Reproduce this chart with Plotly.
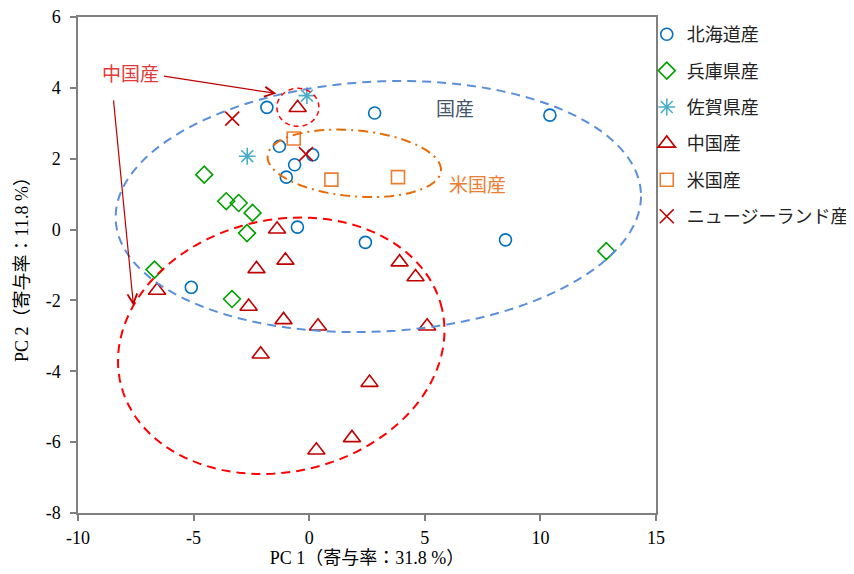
import numpy as np
import plotly.graph_objects as go

# ---------------- data ----------------
hokkaido_x = [-1.83, 2.83, 10.41, -1.29, 0.15, -0.63, -0.99, -0.51, 2.43, 8.49, -5.10]
hokkaido_y = [3.45, 3.29, 3.23, 2.35, 2.11, 1.83, 1.48, 0.07, -0.36, -0.29, -1.63]

hyogo_x = [-4.54, -3.59, -3.05, -2.45, -2.69, -6.69, -3.34, 12.85]
hyogo_y = [1.55, 0.80, 0.75, 0.47, -0.10, -1.13, -1.96, -0.61]

saga_x = [-0.10, -2.68]
saga_y = [3.78, 2.07]

china_x = [-0.50, -1.39, -1.03, -2.28, -6.58, -2.62, -1.11, 0.38, -2.10, 3.91, 4.60, 5.10, 2.61, 1.85, 0.31]
china_y = [3.44, 0.01, -0.87, -1.11, -1.72, -2.17, -2.55, -2.73, -3.52, -0.92, -1.34, -2.73, -4.32, -5.88, -6.23]

usa_x = [-0.67, 0.96, 3.84]
usa_y = [2.57, 1.41, 1.48]

nz_x = [-3.33, -0.14]
nz_y = [3.13, 2.13]

series_names = ["北海道産", "兵庫県産", "佐賀県産", "中国産", "米国産", "ニュージーランド産"]

x_title = "PC 1（寄与率：31.8 %）"
y_title = "PC 2（寄与率：11.8 %）"
x_range = [-10, 15]
y_range = [-8, 6]
x_tickvals = [-10, -5, 0, 5, 10, 15]
x_ticktext = ["-10", "-5", "0", "5", "10", "15"]
y_tickvals = [-8, -6, -4, -2, 0, 2, 4, 6]
y_ticktext = ["-8", "-6", "-4", "-2", "0", "2", "4", "6"]

# ---------------- layout constants ----------------
# (the page body has an 8px margin, so the figure is offset by 8px)
W, H = 854, 574
ML, MT = 70, 9
PW, PH = 578, 496
MR, MB = W - ML - PW, H - MT - PH
SX = PW / (x_range[1] - x_range[0])  # px per unit
SY = PH / (y_range[1] - y_range[0])

SERIF = "Liberation Serif, Noto Sans CJK JP, serif"


def ellipse_path(cx, cy, a_px, b_px, theta_deg, n=120):
    th = np.radians(theta_deg)
    t = np.linspace(0, 2 * np.pi, n)
    dx = a_px * np.cos(t) * np.cos(th) - b_px * np.sin(t) * np.sin(th)
    dy = a_px * np.cos(t) * np.sin(th) + b_px * np.sin(t) * np.cos(th)
    xs = cx + dx / SX
    ys = cy + dy / SY
    pts = [f"{x:.4f},{y:.4f}" for x, y in zip(xs, ys)]
    return "M " + " L ".join(pts) + " Z"


fig = go.Figure()

styles = [
    (hokkaido_x, hokkaido_y, "circle-open", "#0070C0", 12, 1.6),
    (hyogo_x, hyogo_y, "diamond-open", "#00A000", 13, 1.6),
    (saga_x, saga_y, "asterisk-open", "#4BACC6", 14, 1.6),
    (china_x, china_y, "triangle-up-open", "#C00000", 15, 1.6),
    (usa_x, usa_y, "square-open", "#ED7D31", 13, 1.6),
    (nz_x, nz_y, "x-thin-open", "#C00000", 14, 1.6),
]
for name, (xs, ys, sym, col, size, lw) in zip(series_names, styles):
    fig.add_trace(go.Scatter(
        x=xs, y=ys, mode="markers", name=name, legendgroup=name,
        marker=dict(symbol=sym, size=size, color=col, line=dict(color=col, width=lw)),
    ))

# ellipses (group outlines)
shapes = [
    dict(type="path", path=ellipse_path(2.99, 0.65, 263, 125, 3),
         line=dict(color="#5B8FD9", width=2, dash="9px,6px")),
    dict(type="path", path=ellipse_path(1.95, 1.87, 87, 33, -5),
         line=dict(color="#E46C0A", width=2, dash="10px,5px,2px,5px")),
    dict(type="path", path=ellipse_path(-0.49, 3.45, 21, 19, 0),
         line=dict(color="#FF0000", width=1.5, dash="5px,4px")),
    dict(type="path", path=ellipse_path(-1.21, -3.28, 165, 126, 13),
         line=dict(color="#FF0000", width=2, dash="9px,6px")),
]
for s in shapes:
    s.update(xref="x", yref="y", layer="above")
    fig.add_shape(**s)

annotations = [
    dict(x=-7.73, y=4.37, text="中国産", showarrow=False,
         font=dict(family=SERIF, size=19, color="#E03A3A")),
    dict(x=6.32, y=3.38, text="国産", showarrow=False,
         font=dict(family=SERIF, size=19, color="#44546A")),
    dict(x=7.29, y=1.24, text="米国産", showarrow=False,
         font=dict(family=SERIF, size=19, color="#ED7D31")),
    dict(x=-1.42, y=3.84, ax=-6.35, ay=4.34, axref="x", ayref="y", text="",
         showarrow=True, arrowhead=5, arrowsize=1.6, arrowwidth=1.2, arrowcolor="#C00000"),
    dict(x=-7.60, y=-2.15, ax=-8.47, ay=3.69, axref="x", ayref="y", text="",
         showarrow=True, arrowhead=5, arrowsize=1.6, arrowwidth=1.2, arrowcolor="#C00000"),
]
for a in annotations:
    a.update(xref="x", yref="y")
    fig.add_annotation(**a)

axis_common = dict(
    showgrid=False, zeroline=False, showline=True, mirror=True,
    linecolor="#808080", linewidth=1.5, automargin=False,
    ticks="outside", ticklen=6, tickcolor="#808080", tickwidth=1.5,
    ticklabeloverflow="allow",
    tickfont=dict(family=SERIF, size=18, color="#000000"),
)

fig.update_xaxes(range=x_range, tickvals=x_tickvals, ticktext=x_ticktext, ticklabelstandoff=2,
                 title=dict(text=x_title, font=dict(family=SERIF, size=18, color="#000000"), standoff=4),
                 **axis_common)
fig.update_yaxes(range=y_range, tickvals=y_tickvals, ticktext=y_ticktext, ticklabelstandoff=6,
                 title=dict(text=y_title, font=dict(family=SERIF, size=18, color="#000000"), standoff=12),
                 **axis_common)

fig.update_layout(
    width=W, height=H, autosize=False,
    margin=dict(l=ML, r=MR, t=MT, b=MB, autoexpand=False),
    plot_bgcolor="white", paper_bgcolor="white",
    font=dict(family=SERIF, size=18, color="#000000"),
    legend=dict(x=0.984, y=1.002, xanchor="left", yanchor="top",
                font=dict(family=SERIF, size=18, color="#222222"),
                bgcolor="rgba(0,0,0,0)", tracegroupgap=10, itemwidth=30),
    showlegend=True,
)

fig.write_html("out.html")
